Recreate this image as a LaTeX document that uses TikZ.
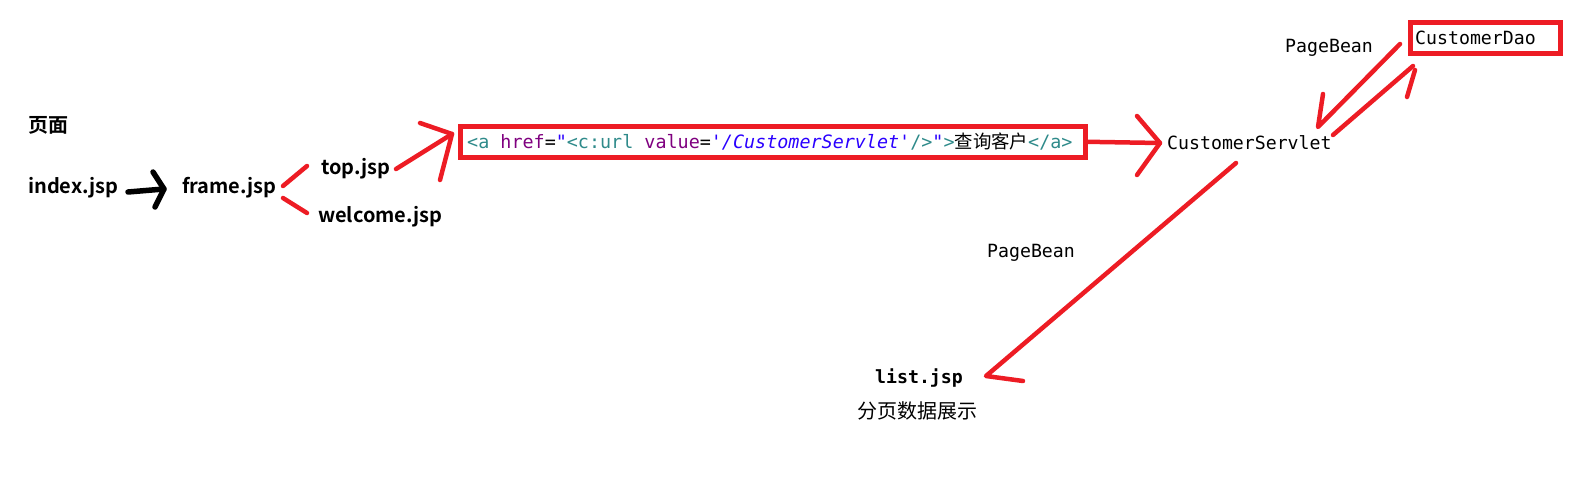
\documentclass[tikz,border=0pt]{standalone}
\usepackage{fontspec}
\setmonofont{DejaVu Sans Mono}
\newfontfamily\cjk{Noto Sans CJK SC}
\newfontfamily\cjkb{Noto Sans CJK SC Bold}
\definecolor{pred}{HTML}{ED1C24}
\definecolor{tagc}{HTML}{2E8A8A}
\definecolor{attc}{HTML}{7F007F}
\definecolor{strc}{HTML}{2A00FF}
\tikzset{
  lbl/.style={anchor=west,inner sep=0pt,font=\cjkb\fontsize{20}{22}\selectfont},
  mono/.style={anchor=west,inner sep=0pt,font=\ttfamily\fontsize{18.2}{20}\selectfont},
  redline/.style={draw=pred,line width=4.5pt,line cap=round,line join=round},
  blkline/.style={draw=black,line width=5.5pt,line cap=round,line join=round},
  redbox/.style={draw=pred,line width=5pt,inner sep=0pt}
}
\begin{document}
\begin{tikzpicture}[x=1pt,y=-1pt]
\useasboundingbox (0,0) rectangle (1570,490);
% page labels
\node[lbl] (pg) at (28,125) {页面};
\node[lbl] (idx) at (28,188) {index.jsp};
\node[lbl] (frm) at (182,188) {frame.jsp};
\node[lbl] (top) at (321,169) {top.jsp};
\node[lbl] (wel) at (318,217) {welcome.jsp};
% code box
\node[redbox,minimum width=625pt,minimum height=30.5pt] (box) at (773,141.8) {};
\node[anchor=west,inner sep=0pt,font=\ttfamily\fontsize{18.4}{20}\selectfont] (code) at (467,142)
 {\textcolor{tagc}{<a} \textcolor{attc}{href}=\textcolor{strc}{"}\textcolor{tagc}{<c:url} \textcolor{attc}{value}=\textcolor{strc}{\itshape'/CustomerServlet'}\textcolor{tagc}{/>}\textcolor{strc}{"}\textcolor{tagc}{>}{\cjk 查询客户}\textcolor{tagc}{</a>}};
% servlet / dao
\node[mono] (srv) at (1167,143) {CustomerServlet};
\node[redbox,minimum width=150pt,minimum height=31pt] (daobox) at (1485.5,38) {};
\node[mono] (dao) at (1415,38) {CustomerDao};
\node[mono] (pb1) at (1285,48) {PageBean};
\node[mono] (pb2) at (987,253) {PageBean};
\node[mono,font=\ttfamily\bfseries\fontsize{18.2}{20}\selectfont] (lst) at (875,378) {list.jsp};
\node[anchor=west,inner sep=0pt,font=\cjk\fontsize{20}{22}\selectfont] (fy) at (857,411) {分页数据展示};
% black arrow index -> frame
\coordinate (a1s) at (128,192);
\coordinate (a1t) at (164,189);
\draw[blkline] (a1s) -- (a1t);
\draw[blkline] (153,172) -- (a1t) -- (155,207);
% frame -> top / welcome
\coordinate (f1) at (283,186); \coordinate (f2) at (307,166);
\coordinate (f3) at (283,198); \coordinate (f4) at (307,213);
\draw[redline] (f1) -- (f2);
\draw[redline] (f3) -- (f4);
% top -> box
\coordinate (a2s) at (396,169);
\coordinate (a2t) at (452,134);
\draw[redline] (a2s) -- (a2t);
\draw[redline] (420,123) -- (a2t) -- (440,180);
% box -> servlet
\coordinate (a3t) at (1160,143);
\draw[redline] (box.east) -- (a3t);
\draw[redline] (1137,116) -- (a3t) -- (1137,175);
% dao -> servlet
\coordinate (a4s) at (1400,44);
\coordinate (a4t) at (1318,127);
\draw[redline] (a4s) -- (a4t) -- (1323,94);
% servlet -> dao
\coordinate (a5s) at (1333,135);
\coordinate (a5t) at (1413,66);
\draw[redline] (a5s) -- (a5t);
\draw[redline] (1415,70) -- (1407,97);
% servlet -> list
\coordinate (a6s) at (1236,163);
\coordinate (a6t) at (986,376);
\draw[redline] (a6s) -- (a6t) -- (1023,381);
\end{tikzpicture}
\end{document}
